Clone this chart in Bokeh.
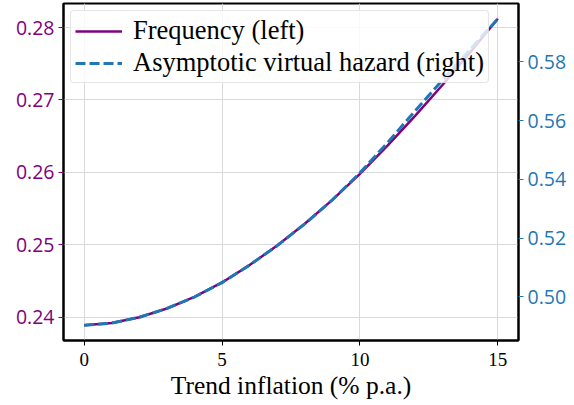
from bokeh.plotting import figure
from bokeh.models import (Range1d, LinearAxis, FixedTicker, NumeralTickFormatter,
                          Legend, LegendItem)
from bokeh.embed import file_html
from bokeh.resources import INLINE

# ---- data ----
inflation = [0, 1, 2, 3, 4, 5, 6, 7, 8, 9, 10, 11, 12, 13, 14, 15]
frequency = [0.2389, 0.2392, 0.2400, 0.2412, 0.2428, 0.2448, 0.2472, 0.2499,
             0.2529, 0.2562, 0.2598, 0.2637, 0.2678, 0.2721, 0.2766, 0.2812]
hazard = [0.4903, 0.4910, 0.4930, 0.4960, 0.4999, 0.5048, 0.5108, 0.5174,
          0.5248, 0.5330, 0.5422, 0.5525, 0.5633, 0.5739, 0.5843, 0.5947]
x_ticks = [0, 5, 10, 15]
left_ticks = [0.24, 0.25, 0.26, 0.27, 0.28]
right_ticks = [0.50, 0.52, 0.54, 0.56, 0.58]
label_freq = "Frequency (left)"
label_hazard = "Asymptotic virtual hazard (right)"
x_label = "Trend inflation (% p.a.)"

PURPLE = "#800080"
BLUE = "#1f77b4"
SERIF = "Liberation Serif"
SANS = "Open Sans"


def padded(v, m=0.05):
    lo, hi = min(v), max(v)
    s = hi - lo
    return lo - m * s, hi + m * s


p = figure(width=574, height=405, output_backend="svg", toolbar_location=None,
           x_range=Range1d(*padded(inflation)), y_range=Range1d(*padded(frequency)),
           min_border_left=63, min_border_right=56, min_border_top=3,
           min_border_bottom=65)
p.extra_y_ranges = {"right": Range1d(*padded(hazard))}

p.background_fill_color = "white"
p.border_fill_color = "white"
p.outline_line_color = "black"
p.outline_line_width = 2

# x axis
xa = p.xaxis[0]
xa.ticker = FixedTicker(ticks=x_ticks)
xa.axis_label = x_label
xa.axis_label_text_font = SERIF
xa.axis_label_text_font_size = "25.5px"
xa.axis_label_text_font_style = "normal"
xa.axis_label_text_color = "black"
xa.axis_label_standoff = 2
xa.major_label_text_font = SERIF
xa.major_label_text_font_size = "19px"
xa.major_label_text_color = "black"
xa.major_label_standoff = 7
xa.axis_line_color = "black"
xa.axis_line_width = 2
xa.major_tick_line_color = "black"
xa.major_tick_out = 5
xa.major_tick_in = 0
xa.minor_tick_line_color = None

# left y axis
ya = p.yaxis[0]
ya.ticker = FixedTicker(ticks=left_ticks)
ya.formatter = NumeralTickFormatter(format="0.00")
ya.major_label_text_font = SANS
ya.major_label_text_font_size = "19.5px"
ya.major_label_text_color = PURPLE
ya.major_label_standoff = 4
ya.axis_line_color = "black"
ya.axis_line_width = 2
ya.major_tick_line_color = PURPLE
ya.major_tick_out = 5
ya.major_tick_in = 0
ya.minor_tick_line_color = None

# right y axis
ra = LinearAxis(y_range_name="right", ticker=FixedTicker(ticks=right_ticks),
                formatter=NumeralTickFormatter(format="0.00"))
ra.major_label_text_font = SANS
ra.major_label_text_font_size = "19.5px"
ra.major_label_text_color = BLUE
ra.major_label_standoff = 4
ra.axis_line_color = "black"
ra.axis_line_width = 2
ra.major_tick_line_color = BLUE
ra.major_tick_out = 5
ra.major_tick_in = 0
ra.minor_tick_line_color = None
p.add_layout(ra, "right")

# grid
p.xgrid.ticker = FixedTicker(ticks=x_ticks)
p.ygrid.ticker = FixedTicker(ticks=left_ticks)
p.xgrid.grid_line_color = "#dadada"
p.ygrid.grid_line_color = "#dadada"
p.xgrid.grid_line_width = 1
p.ygrid.grid_line_width = 1

# lines
r1 = p.line(inflation, frequency, line_color=PURPLE, line_width=2.5,
            line_join="round")
r2 = p.line(inflation, hazard, line_color=BLUE, line_width=3, line_dash="10 4",
            y_range_name="right", level="overlay")

legend = Legend(items=[LegendItem(label=label_freq, renderers=[r1]),
                       LegendItem(label=label_hazard, renderers=[r2])],
                location="top_left")
legend.label_text_font = SERIF
legend.label_text_font_size = "26.5px"
legend.label_text_color = "black"
legend.glyph_width = 47
legend.glyph_height = 20
legend.label_height = 20
legend.label_standoff = 11
legend.spacing = 1
legend.padding = 4
legend.margin = 7
legend.border_line_color = "#cccccc"
legend.border_line_width = 1
legend.background_fill_color = "white"
legend.background_fill_alpha = 0.8
legend.border_radius = 4
p.add_layout(legend)

open("out.html", "w").write(file_html(p, INLINE))
